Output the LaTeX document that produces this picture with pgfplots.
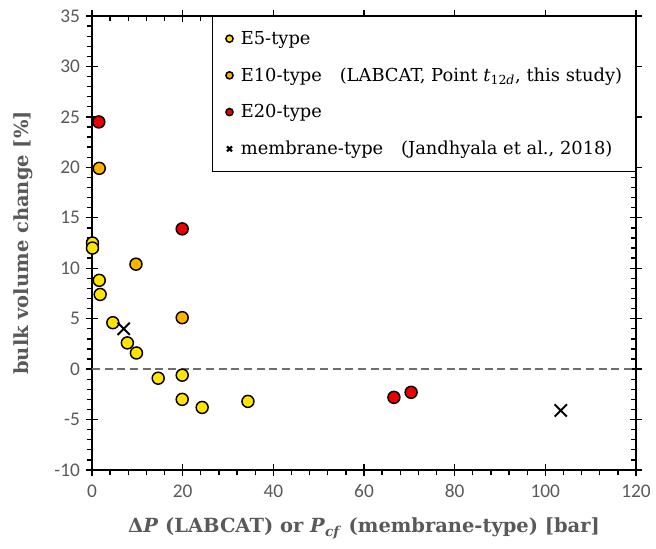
\documentclass[border=0pt]{standalone}
\usepackage{pgfplots}
\pgfplotsset{compat=1.18}
\usepackage{fontspec}
\setmainfont{DejaVu Serif}
\newfontfamily\tickfont{Carlito}

\definecolor{eyellow}{RGB}{255,228,0}
\definecolor{eorange}{RGB}{255,178,0}
\definecolor{ered}{RGB}{238,0,0}
\definecolor{labgray}{RGB}{89,89,89}
\definecolor{dashgray}{RGB}{110,110,110}

\begin{document}
\begin{tikzpicture}
\begin{axis}[
  name=main,
  scale only axis,
  width=408pt, height=340.5pt,
  xmin=0, xmax=120, ymin=-10, ymax=35,
  xtick={0,20,...,120}, ytick={-10,-5,...,35},
  minor x tick num=4, minor y tick num=4,
  tick align=center,
  major tick length=9pt,
  minor tick length=4pt,
  minor x tick style={yshift=-2pt},
  minor y tick style={xshift=-2pt},
  axis line style={line width=1.1pt},
  tick style={line width=1pt, black},
  ticklabel style={font=\tickfont\fontsize{14.5}{16}\selectfont, text=labgray},
  /pgf/number format/assume math mode=true,
  xticklabel style={yshift=-3pt},
  yticklabel style={xshift=-1pt},
  xlabel={\bfseries Δ\textit{P} (LABCAT) or \textit{P}\textsubscript{\textit{cf}} (membrane-type) [bar]},
  ylabel={\bfseries bulk volume change [\%]},
  label style={font=\fontsize{14.6}{16}\selectfont, text=labgray},
  xlabel style={yshift=-8pt},
  ylabel style={yshift=9pt},
  legend style={at={(rel axis cs:1,1)}, anchor=north east,
    draw=black, line width=0.8pt, font=\fontsize{13.4}{15}\selectfont,
    row sep=12pt, inner xsep=8pt, inner ysep=9pt},
  legend cell align=left,
  legend image post style={mark size=2.7pt},
  legend image code/.code={%
    \path[draw=none, fill=none] (0pt,0pt) -- (11.25pt,0pt);
    \draw[#1] plot coordinates {(4.75pt,0pt)};},
]
% reference line at zero change
\addplot[dashgray, line width=1.5pt, dash pattern=on 6pt off 3.5pt, forget plot]
  coordinates {(0,0) (120,0)};

% E5-type
\addplot[only marks, mark=*, mark size=4.5pt,
  mark options={fill=eyellow, draw=black, line width=1.1pt}]
  coordinates {
    (0.1,12.5) (0.1,12.0) (1.6,8.8) (1.8,7.4) (4.6,4.6) (7.8,2.6)
    (9.8,1.6) (14.6,-0.9) (19.9,-0.6) (19.9,-3.0) (24.3,-3.8) (34.4,-3.2)
  };
\addlegendentry{E5-type}

% E10-type
\addplot[only marks, mark=*, mark size=4.5pt,
  mark options={fill=eorange, draw=black, line width=1.1pt}]
  coordinates {(1.6,19.9) (9.7,10.4) (19.9,5.1)};
\addlegendentry{E10-type\hspace{1em}(LABCAT, Point \textit{t}\textsubscript{12\textit{d}}, this study)}

% E20-type
\addplot[only marks, mark=*, mark size=4.5pt,
  mark options={fill=ered, draw=black, line width=1.1pt}]
  coordinates {(1.5,24.5) (19.9,13.9) (66.6,-2.8) (70.4,-2.3)};
\addlegendentry{E20-type}

% membrane-type
\addplot[only marks, mark=x, mark size=6.5pt,
  mark options={draw=black, line width=1.5pt}]
  coordinates {(7.0,4.0) (103.4,-4.1)};
\addlegendentry{membrane-type\hspace{1em}(Jandhyala et al., 2018)}
\end{axis}
% page frame around the axis with room for labels
\pgfresetboundingbox
\path ([shift={(-69pt,-59.25pt)}]main.south west) rectangle ([shift={(15pt,12pt)}]main.north east);
\end{tikzpicture}
\end{document}
